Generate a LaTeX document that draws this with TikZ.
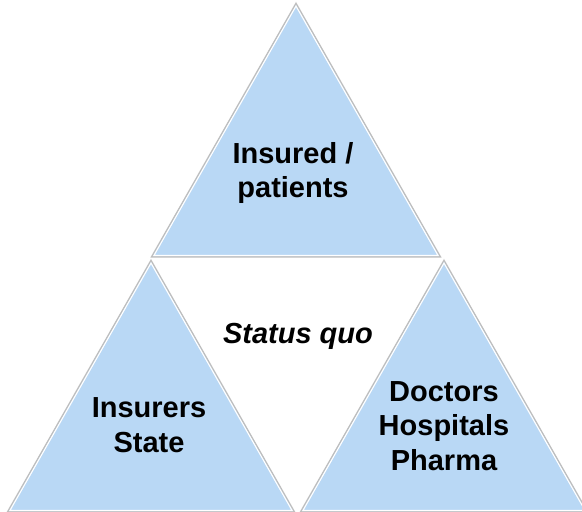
\documentclass[tikz,border=0pt]{standalone}
\usepackage{fontspec}
\setmainfont{Liberation Sans}
\definecolor{triblue}{RGB}{185,216,245}
\definecolor{triedge}{RGB}{190,190,190}
\tikzset{
  lbl/.style={font=\bfseries\fontsize{29}{34.5}\selectfont, align=center, inner sep=0pt},
}
\newcommand{\mytri}[3]{%
  \draw[triedge, line width=3pt, line join=miter] #1 -- #2 -- #3 -- cycle;
  \fill[triblue] #1 -- #2 -- #3 -- cycle;
  \begin{scope}
    \clip #1 -- #2 -- #3 -- cycle;
    \draw[white, line width=2.2pt, line join=miter] #1 -- #2 -- #3 -- cycle;
  \end{scope}
}
\begin{document}
\begin{tikzpicture}[x=1pt,y=-1pt]
\useasboundingbox (0,0) rectangle (582,512);
\fill[white] (0,0) rectangle (582,512);
\mytri{(296,5)}{(153,256)}{(439,256)}
\mytri{(151,262)}{(9,511)}{(293,511)}
\mytri{(444,262)}{(302,511)}{(586,511)}
\node[lbl] (top) at (293,173) {Insured /\\patients};
\node[lbl, font=\bfseries\itshape\fontsize{29}{34}\selectfont] (sq) at (298,336) {Status quo};
\node[lbl] (left) at (149,425) {Insurers\\State};
\node[lbl] (right) at (444,426) {Doctors\\Hospitals\\Pharma};
\end{tikzpicture}
\end{document}
